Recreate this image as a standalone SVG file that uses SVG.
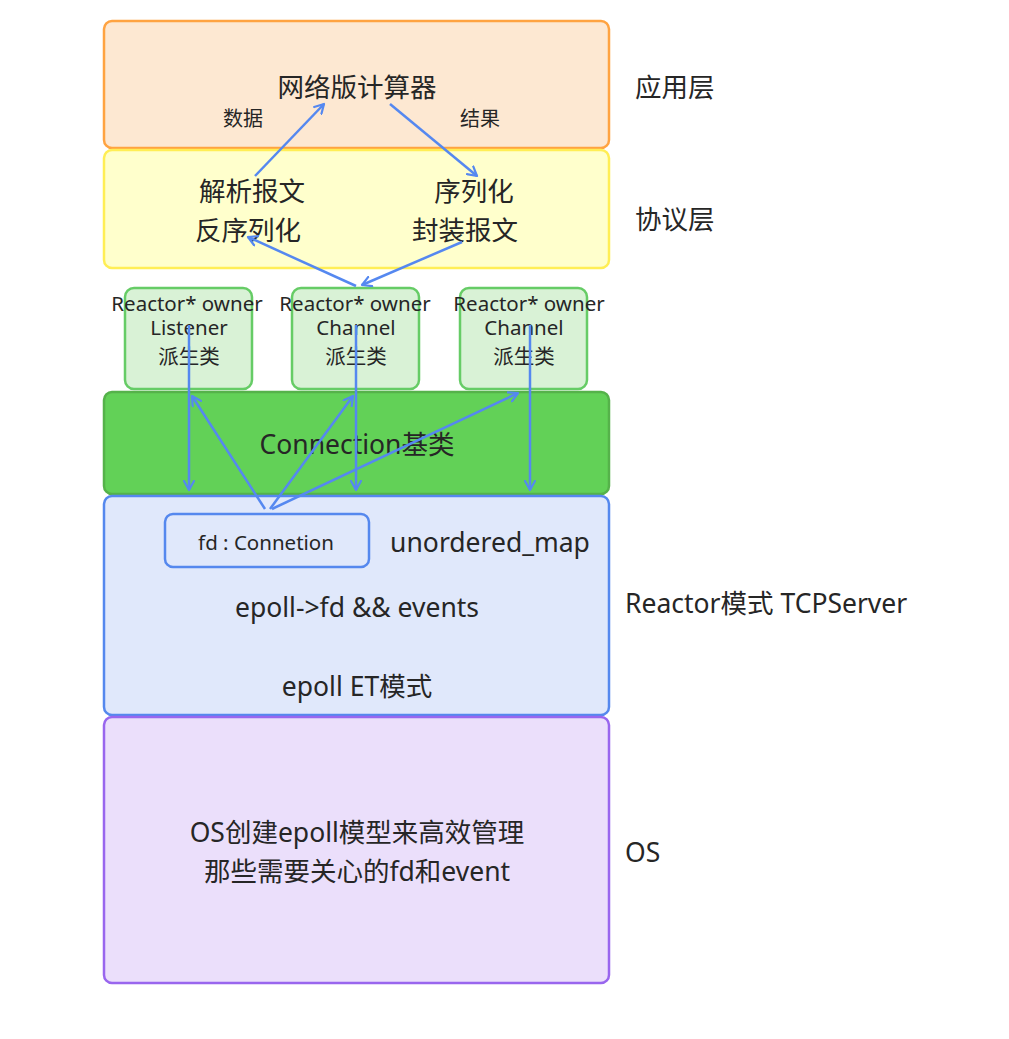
<svg xmlns="http://www.w3.org/2000/svg" width="1009" height="1039" viewBox="0 0 1009 1039">
<defs>
<style>
text{font-family:"Noto Sans","Noto Sans CJK SC",sans-serif;fill:#262626;text-anchor:middle;dominant-baseline:central}
.l{text-anchor:start}
.big{font-size:26.5px}
.sm{font-size:20.5px}
.c{stroke:#5588f0;stroke-width:2.5;fill:none;marker-end:url(#ah)}
</style>
<marker id="ah" viewBox="0 0 12 12" refX="10" refY="6" markerWidth="12" markerHeight="12" markerUnits="userSpaceOnUse" orient="auto">
<path d="M1,1 L10,6 L1,11" fill="none" stroke="#5588f0" stroke-width="2.2" stroke-linecap="round" stroke-linejoin="round"/>
</marker>
</defs>
<rect width="1009" height="1039" fill="#fff"/>
<g id="app">
<rect x="104" y="21" width="505" height="127" rx="8" fill="#fde8d2" stroke="#ffa341" stroke-width="2.5"/>
<text class="big" x="357" y="87">网络版计算器</text>
<text x="243" y="118" font-size="20">数据</text>
<text x="480" y="118" font-size="20">结果</text>
</g>
<g id="proto">
<rect x="104" y="150" width="505" height="118" rx="8" fill="#ffffcc" stroke="#ffee55" stroke-width="2.5"/>
<text class="big" x="252" y="191">解析报文</text>
<text class="big" x="248" y="230">反序列化</text>
<text class="big" x="474" y="191">序列化</text>
<text class="big" x="465" y="230">封装报文</text>
</g>
<g id="listener">
<rect x="125" y="288" width="127" height="101" rx="9" fill="#d9f2d6" stroke="#66cc66" stroke-width="2.5"/>
<text class="sm" x="187" y="303">Reactor* owner</text>
<text class="sm" x="189" y="327">Listener</text>
<text class="sm" x="189" y="356">派生类</text>
</g>
<g id="channel1">
<rect x="292" y="288" width="127" height="101" rx="9" fill="#d9f2d6" stroke="#66cc66" stroke-width="2.5"/>
<text class="sm" x="355" y="303">Reactor* owner</text>
<text class="sm" x="356" y="327">Channel</text>
<text class="sm" x="356" y="356">派生类</text>
</g>
<g id="channel2">
<rect x="460" y="288" width="127" height="101" rx="9" fill="#d9f2d6" stroke="#66cc66" stroke-width="2.5"/>
<text class="sm" x="529" y="303">Reactor* owner</text>
<text class="sm" x="524" y="327">Channel</text>
<text class="sm" x="524" y="356">派生类</text>
</g>
<g id="connection">
<rect x="104" y="392" width="505" height="102" rx="8" fill="#62d157" stroke="#55b24a" stroke-width="2.5"/>
<text class="big" x="357" y="444">Connection基类</text>
</g>
<g id="reactor">
<rect x="104" y="496" width="505" height="219" rx="8" fill="#e0e8fb" stroke="#5588ee" stroke-width="2.5"/>
<text class="big" x="357" y="607">epoll-&gt;fd &amp;&amp; events</text>
<text class="big" x="357" y="686">epoll ET模式</text>
<text class="big" x="490" y="542">unordered_map</text>
</g>
<g id="fdmap">
<rect x="165" y="514" width="204" height="53" rx="8" fill="#e0e8fb" stroke="#5588ee" stroke-width="2.5"/>
<text x="266" y="542" font-size="20.5">fd : Connetion</text>
</g>
<g id="os">
<rect x="104" y="717" width="505" height="266" rx="8" fill="#ebdffb" stroke="#9966ee" stroke-width="2.5"/>
<text class="big" x="357" y="832">OS创建epoll模型来高效管理</text>
<text class="big" x="357" y="871">那些需要关心的fd和event</text>
</g>
<g id="labels">
<text class="l big" x="635" y="87">应用层</text>
<text class="l big" x="635" y="219">协议层</text>
<text class="l big" x="625" y="603">Reactor模式 TCPServer</text>
<text class="l big" x="625" y="852">OS</text>
</g>
<g id="connectors">
<line class="c" x1="255" y1="176" x2="324" y2="104"/>
<line class="c" x1="390" y1="104" x2="477" y2="176"/>
<line class="c" x1="356" y1="286" x2="248" y2="237"/>
<line class="c" x1="462" y1="242" x2="362" y2="285"/>
<line class="c" x1="189" y1="325" x2="189" y2="490"/>
<line class="c" x1="356" y1="325" x2="356" y2="490"/>
<line class="c" x1="530" y1="325" x2="530" y2="490"/>
<line class="c" x1="265" y1="509" x2="192" y2="396"/>
<line class="c" x1="270" y1="509" x2="353" y2="396"/>
<line class="c" x1="272" y1="509" x2="518" y2="393"/>
</g>
</svg>
